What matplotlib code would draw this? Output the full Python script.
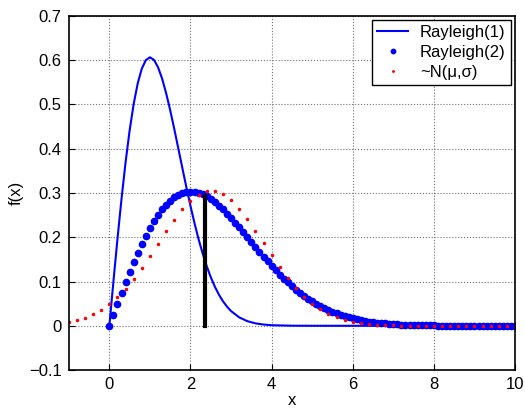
import matplotlib
matplotlib.use("Agg")
import matplotlib.pyplot as plt
import numpy as np

plt.rcParams['font.family'] = ['Liberation Sans', 'DejaVu Sans']

# Rayleigh(1) pdf
x_r1 = [0.0, 0.1, 0.2, 0.3, 0.4, 0.5, 0.6, 0.7, 0.8, 0.9, 1.0, 1.1, 1.2, 1.3, 1.4,
        1.5, 1.6, 1.7, 1.8, 1.9, 2.0, 2.1, 2.2, 2.3, 2.4, 2.5, 2.6, 2.7, 2.8, 2.9,
        3.0, 3.2, 3.4, 3.6, 3.8, 4.0, 4.5, 5.0, 10.0]
y_r1 = [0.0, 0.0995, 0.1960, 0.2868, 0.3692, 0.4412, 0.5012, 0.5478, 0.5809, 0.6002,
        0.6065, 0.6007, 0.5841, 0.5585, 0.5254, 0.4870, 0.4448, 0.4007, 0.3562, 0.3125,
        0.2707, 0.2316, 0.1956, 0.1633, 0.1347, 0.1098, 0.0885, 0.0705, 0.0556, 0.0433,
        0.0333, 0.0191, 0.0105, 0.0055, 0.0028, 0.0013, 0.0002, 0.0, 0.0]

# Rayleigh(2) pdf, dots every 0.1 from 0 to 10
x_r2 = np.round(np.arange(0, 10.05, 0.1), 1)
y_r2 = [0.0, 0.0250, 0.0498, 0.0742, 0.0980, 0.1211, 0.1434, 0.1646, 0.1846, 0.2033,
        0.2206, 0.2364, 0.2506, 0.2631, 0.2739, 0.2830, 0.2905, 0.2961, 0.3001, 0.3025,
        0.3033, 0.3026, 0.3004, 0.2968, 0.2921, 0.2861, 0.2792, 0.2714, 0.2627, 0.2534,
        0.2435, 0.2331, 0.2224, 0.2114, 0.2003, 0.1892, 0.1781, 0.1671, 0.1563, 0.1457,
        0.1353, 0.1254, 0.1158, 0.1066, 0.0978, 0.0895, 0.0817, 0.0743, 0.0674, 0.0609,
        0.0549, 0.0494, 0.0442, 0.0396, 0.0353, 0.0313, 0.0278, 0.0245, 0.0216, 0.0190,
        0.0167, 0.0146, 0.0127, 0.0110, 0.0096, 0.0083, 0.0071, 0.0061, 0.0053, 0.0045,
        0.0038, 0.0033, 0.0028, 0.0023, 0.0020, 0.0017, 0.0014, 0.0012, 0.0010, 0.0008,
        0.0007, 0.0005, 0.0004, 0.0004, 0.0003, 0.0002, 0.0002, 0.0001, 0.0001, 0.0001,
        0.0001, 0.0, 0.0, 0.0, 0.0, 0.0, 0.0, 0.0, 0.0, 0.0, 0.0]

# normal approximation, red dots every 0.2 from -1 to 10
x_n = np.round(np.arange(-1, 10.05, 0.2), 1)
y_n = [0.0085, 0.0126, 0.0183, 0.0260, 0.0361, 0.0488, 0.0646, 0.0836, 0.1056, 0.1304,
       0.1572, 0.1852, 0.2132, 0.2397, 0.2633, 0.2826, 0.2963, 0.3035, 0.3037, 0.2970,
       0.2837, 0.2647, 0.2413, 0.2150, 0.1871, 0.1590, 0.1321, 0.1072, 0.0850, 0.0658,
       0.0498, 0.0368, 0.0266, 0.0188, 0.0129, 0.0087, 0.0057, 0.0037, 0.0023, 0.0014,
       0.0008, 0.0005, 0.0003, 0.0001, 0.0001, 0.0, 0.0, 0.0, 0.0, 0.0,
       0.0, 0.0, 0.0, 0.0, 0.0, 0.0]

# median of Rayleigh(2) marker
x_med = 2.355
y_med = 0.294

fig = plt.figure(figsize=(5.25, 4.08), dpi=100)
ax = fig.add_axes([0.131, 0.093, 0.850, 0.868])

ax.plot(x_r1, y_r1, 'b-', lw=1.5, label='Rayleigh(1)')
ax.plot(x_r2, y_r2, 'b.', ms=9, label='Rayleigh(2)')
ax.plot(x_n, y_n, 'r.', ms=3, label='~N(\u03bc,\u03c3)')
ax.plot([x_med, x_med], [0, y_med], 'k-', lw=3)

ax.set_xlim(-1, 10)
ax.set_ylim(-0.1, 0.7)
ax.set_xticks([0, 2, 4, 6, 8, 10])
ax.set_yticks(np.round(np.arange(-0.1, 0.75, 0.1), 1))
ax.set_yticklabels(['\u22120.1', '0', '0.1', '0.2', '0.3', '0.4', '0.5', '0.6', '0.7'])
ax.grid(True, linestyle=':', color='0.45', lw=0.8)
ax.tick_params(direction='in', labelsize=12, length=4, pad=5)
for s in ax.spines.values():
    s.set_linewidth(1.2)
ax.set_xlabel('x', fontsize=12, labelpad=1)
ax.set_ylabel('f(x)', fontsize=12, labelpad=4)

leg = ax.legend(loc='upper right', fontsize=12, fancybox=False, edgecolor='k',
                framealpha=1, handlelength=1.9, borderaxespad=0.25, labelspacing=0.3,
                borderpad=0.3, handletextpad=0.7, markerscale=0.7)
leg.get_frame().set_linewidth(1.0)

plt.savefig('out.png', dpi=100)
